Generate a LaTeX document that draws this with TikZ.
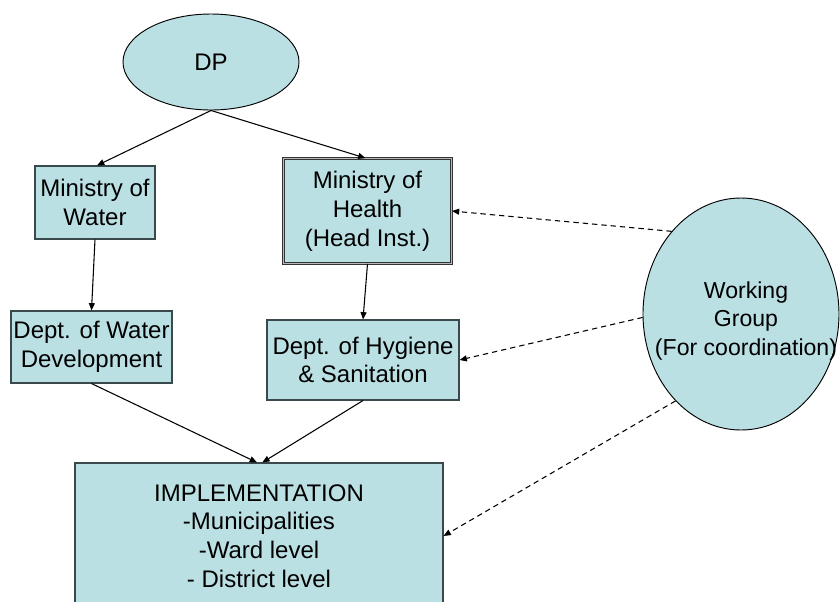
\documentclass[tikz,border=0pt]{standalone}
\usepackage{fontspec}
\setmainfont{Liberation Sans}
\usetikzlibrary{shapes.geometric,arrows.meta}
\definecolor{boxfill}{HTML}{BBE0E3}
\definecolor{boxline}{HTML}{3A4A4C}
\begin{document}
\begin{tikzpicture}[x=0.75pt,y=-0.75pt,
  txt/.style={font=\fontsize{18}{21.6}\selectfont, align=center},
  box/.style={txt, rectangle, draw=boxline, line width=0.8pt, fill=boxfill, inner sep=0pt},
  oval/.style={txt, ellipse, draw=black, line width=0.7pt, fill=boxfill, inner sep=0pt},
  conn/.style={line width=0.8pt, -{Triangle[length=5.5pt,width=4.5pt]}},
  dconn/.style={conn, dash pattern=on 4pt off 3pt}]
\useasboundingbox (0,0) rectangle (840,601);
\clip (0,0) rectangle (840,601);
% nodes
\node[oval, minimum width=132pt, minimum height=72pt] (dp) at (211,62) {DP};
\node[box, minimum width=90pt, minimum height=54.75pt] (mow) at (95,202.5) {Ministry of\\Water};
\node[box, minimum width=120.75pt, minimum height=54pt] (dwd) at (91.5,347) {Dept. of Water\\Development};
\node[box, draw=black!80, line width=0.6pt, double=gray!55, double distance=1.4pt,
      minimum width=126pt, minimum height=78.75pt] (moh) at (367.5,211) {Ministry of\\Health\\(Head Inst.)};
\node[box, minimum width=144pt, minimum height=60pt] (dhs) at (363,360) {Dept. of Hygiene\\\& Sanitation};
\node[box, minimum width=276pt, minimum height=109.5pt] (imp) at (259,536) {IMPLEMENTATION\\-Municipalities\\-Ward level\\- District level};
\node[oval, minimum width=147pt, minimum height=174pt] (wg) at (741,314) {};
\node[txt, font=\fontsize{17.3}{21.6}\selectfont] (wgtext) at (746,321) {Working\\Group\\(For coordination)};
% connectors
\draw[conn] (dp.south) -- ([xshift=1.5pt]mow.north);
\draw[conn] (dp.south) -- ([xshift=-1.5pt]moh.north);
\draw[conn] (mow.south) -- (dwd.north);
\draw[conn] (moh.south) -- (dhs.north);
\draw[conn] (dwd.south) -- ([xshift=-1.5pt]imp.north);
\draw[conn] (dhs.south) -- ([xshift=2.5pt]imp.north);
\draw[dconn] (wg.130) -- (moh.east);
\draw[dconn] (wg.182) -- (dhs.east);
\draw[dconn] (wg.233) -- (imp.east);
\end{tikzpicture}
\end{document}
